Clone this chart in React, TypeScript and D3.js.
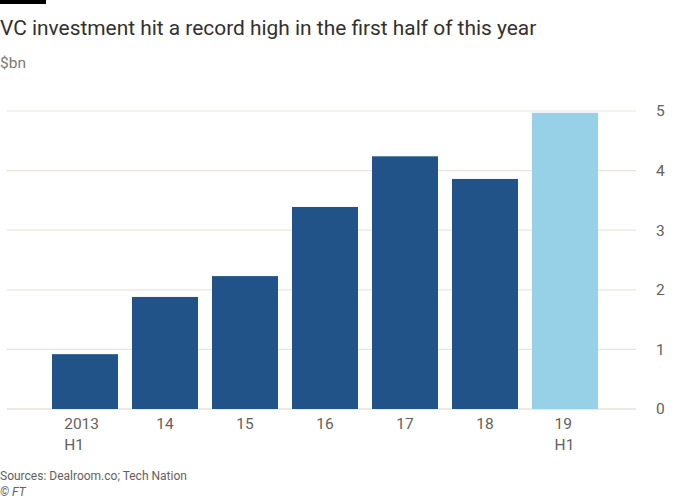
import * as d3 from 'd3';
import React from 'react';

const categories = ['2013 H1', '14', '15', '16', '17', '18', '19 H1'];
const values = [0.92, 1.88, 2.23, 3.39, 4.24, 3.86, 4.97];
const highlighted = ['19 H1'];
const yTicks = [0, 1, 2, 3, 4, 5];

const width = 700;
const height = 500;
const font = 'Roboto, "Open Sans", sans-serif';

const x = d3
	.scaleBand<string>()
	.domain(categories)
	.range([45, 605])
	.paddingInner(0.175)
	.paddingOuter(0.0875);

const y = d3.scaleLinear().domain([0, 5]).range([409, 111]);

const App = () => {
	return (
		<>
			<style>{'body{margin:0}'}</style>
			<svg width={width} height={height} style={{ display: 'block', fontFamily: font }}>
				<rect x={0} y={0} width={46} height={4} fill="#000" />
				<text x={0} y={35} fontSize={20.9} fill="#33302e">
					VC investment hit a record high in the first half of this year
				</text>
				<text x={0} y={68} fontSize={15.5} fill="#807973">
					$bn
				</text>

				{yTicks.map(t => (
					<g key={t}>
						<line x1={7} x2={636} y1={y(t)} y2={y(t)} stroke={t === 0 ? '#ddd3cc' : '#ebe4de'} strokeWidth={1.2} />
						<text x={656} y={y(t)} dy="0.35em" fontSize={15.5} fill="#66605c">
							{t}
						</text>
					</g>
				))}

				{categories.map((c, i) => (
					<rect
						key={c}
						x={x(c)}
						y={y(values[i])}
						width={x.bandwidth()}
						height={y(0) - y(values[i])}
						fill={highlighted.includes(c) ? '#96d1e7' : '#215389'}
					/>
				))}

				{categories.map(c => {
					const lines = c.split(' ');
					const cx = (x(c) ?? 0) + x.bandwidth() / 2;
					const startX = cx - lines[0].length * 5.2;
					return (
						<text key={c} fontSize={15.5} fill="#66605c" textAnchor={lines.length > 1 ? 'start' : 'middle'}>
							{lines.map((l, j) => (
								<tspan key={j} x={lines.length > 1 ? startX : cx} y={429 + j * 21}>
									{l}
								</tspan>
							))}
						</text>
					);
				})}

				<text x={0} y={480} fontSize={12} fill="#66605c">
					Sources: Dealroom.co; Tech Nation
				</text>
				<text x={0} y={496} fontSize={12} fill="#66605c" fontStyle="italic">
					© FT
				</text>
			</svg>
		</>
	);
};

export default App;
